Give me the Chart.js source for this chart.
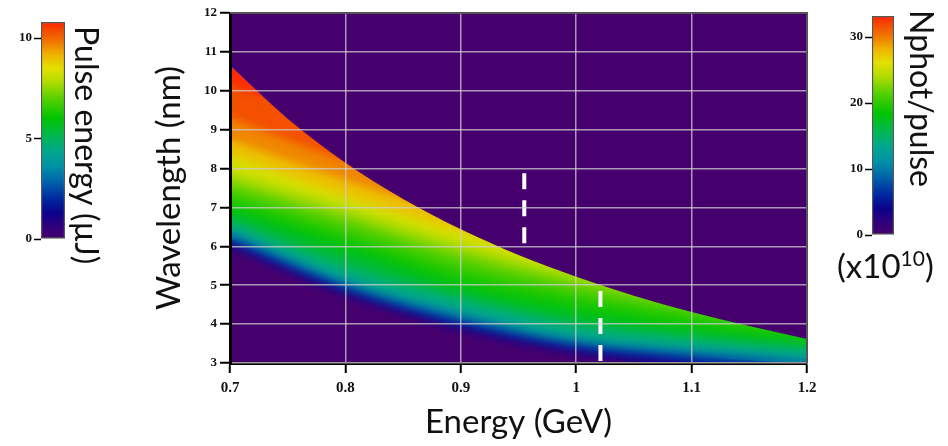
<!DOCTYPE html>
<html>
<head>
<meta charset="utf-8">
<script src="https://cdn.jsdelivr.net/npm/chart.js@4.4.0/dist/chart.umd.min.js"></script>
<style>
  html, body { margin: 0; padding: 0; background: #fff; }
  #page { position: relative; width: 948px; height: 446px; overflow: hidden; }
  .box { position: absolute; top: 0; height: 446px; }
  .vlabel { position: absolute; writing-mode: vertical-rl; font-family: Lato, sans-serif; font-size: 32px; line-height: 32px; color: #111; white-space: nowrap; }
  #exp { position: absolute; left: 837px; top: 245px; font-family: Lato, sans-serif; font-size: 33px; color: #111; white-space: nowrap; }
  #exp sup { font-size: 21px; }
</style>
</head>
<body>
<div id="page">
  <div class="box" style="left:0;width:948px"><canvas id="main"></canvas></div>
  <div class="box" style="left:0;width:140px"><canvas id="barLeft"></canvas></div>
  <div class="box" style="left:790px;width:158px"><canvas id="barRight"></canvas></div>
  <div class="vlabel" style="left:71px;top:26px">Pulse energy (µJ)</div>
  <div class="vlabel" style="left:906px;top:10px">Nphot/pulse</div>
  <div id="exp">(x10<sup>10</sup>)</div>
</div>
<script>
//---------------------- data ----------------------

// electron energy (GeV) where the contours are read
const energies = [0.7, 0.8, 0.9, 1.0, 1.1, 1.2];

// sharp upper edge of the lasing region (nm)
const edgeEnergies = [0.7, 0.75, 0.8, 0.85, 0.9, 0.95, 1.0, 1.05, 1.1, 1.15, 1.2];
const edgeWavelengths = [10.65, 9.28, 8.15, 7.22, 6.44, 5.78, 5.22, 4.73, 4.31, 3.95, 3.62];

// pulse energy levels (µJ) and the wavelength of each level at each energy
const pulseLevels = [0.5, 1.3, 2.5, 4.0, 5.0, 5.5, 6.0, 6.5, 7.0, 7.5, 8.0, 8.6, 9.3, 10.0, 10.6];
const wl_0_5 = [5.95, 4.72, 3.82, 3.22, 2.90, 2.70];
const wl_1_3 = [6.07, 4.83, 3.95, 3.34, 3.04, 2.84];
const wl_2_5 = [6.20, 4.97, 4.10, 3.48, 3.18, 2.98];
const wl_4_0 = [6.40, 5.14, 4.30, 3.64, 3.35, 3.12];
const wl_5_0 = [6.62, 5.45, 4.62, 3.95, 3.60, 3.34];
const wl_5_5 = [6.80, 5.75, 4.82, 4.15, 3.76, 3.48];
const wl_6_0 = [7.00, 6.05, 5.05, 4.40, 3.95, 3.62];
const wl_6_5 = [7.25, 6.32, 5.35, 4.68, 4.18, 3.80];
const wl_7_0 = [7.50, 6.60, 5.65, 4.95, 4.40, 4.00];
const wl_7_5 = [7.72, 6.82, 5.88, 5.15, 4.62, 4.20];
const wl_8_0 = [7.95, 7.05, 6.10, 5.35, 4.85, 4.40];
const wl_8_6 = [8.35, 7.30, 6.40, 5.70, 5.20, 4.70];
const wl_9_3 = [8.75, 7.70, 6.80, 6.10, 5.50, 5.00];
const wl_10_0 = [9.30, 8.20, 7.30, 6.50, 5.90, 5.40];
const wl_10_6 = [10.20, 8.90, 7.90, 7.00, 6.40, 5.80];
const contours = [wl_0_5, wl_1_3, wl_2_5, wl_4_0, wl_5_0, wl_5_5, wl_6_0, wl_6_5,
                  wl_7_0, wl_7_5, wl_8_0, wl_8_6, wl_9_3, wl_10_0, wl_10_6];

// white dashed markers
const marker1Energy = [0.955, 0.955];
const marker1Wavelength = [6.08, 7.91];
const marker2Energy = [1.021, 1.021];
const marker2Wavelength = [3.05, 4.93];

// ticks
const xTicks = [0.7, 0.8, 0.9, 1.0, 1.1, 1.2];
const xTickLabels = ['0.7', '0.8', '0.9', '1', '1.1', '1.2'];
const yTicks = [3, 4, 5, 6, 7, 8, 9, 10, 11, 12];
const pulseTicks = [0, 5, 10];
const pulseMax = 10.8;
const photTicks = [0, 10, 20, 30];
const photMax = 33.2;

//---------------------- style ----------------------

// rainbow colour map, position 0..1 of the colour bar
const cmapStops = [
  [0.000, [70, 0, 110]],
  [0.056, [48, 0, 124]],
  [0.120, [12, 0, 140]],
  [0.185, [0, 40, 160]],
  [0.260, [0, 96, 170]],
  [0.333, [0, 144, 168]],
  [0.407, [0, 168, 140]],
  [0.480, [0, 184, 76]],
  [0.556, [0, 196, 0]],
  [0.648, [88, 208, 0]],
  [0.722, [176, 220, 0]],
  [0.787, [228, 224, 0]],
  [0.852, [240, 176, 0]],
  [0.907, [240, 120, 0]],
  [0.963, [244, 72, 0]],
  [1.000, [255, 34, 0]]
];

function rgb(c) { return 'rgb(' + c.join(',') + ')'; }

function cmap(t) {
  t = Math.max(0, Math.min(1, t));
  for (let i = 1; i < cmapStops.length; i++) {
    if (t <= cmapStops[i][0]) {
      const [t0, c0] = cmapStops[i - 1];
      const [t1, c1] = cmapStops[i];
      const f = (t - t0) / (t1 - t0);
      return rgb(c0.map((c, j) => Math.round(c + (c1[j] - c) * f)));
    }
  }
  return rgb(cmapStops[cmapStops.length - 1][1]);
}

const purple = cmap(0);
const xTickFont = { family: 'Liberation Serif', size: 15, weight: 'bold' };
const yTickFont = { family: 'Liberation Serif', size: 13, weight: 'bold' };
const titleFont = { family: 'Lato', size: 33 };
const gridColor = 'rgba(205,205,205,0.75)';

function toPoints(xs, ys) { return xs.map((x, i) => ({ x: x, y: ys[i] })); }

//---------------------- heat map ----------------------

// painted from the top contour down, each one filling to the bottom
const bandSets = contours.map((wl, k) => {
  const mid = k === 0 ? 0 : (pulseLevels[k - 1] + pulseLevels[k]) / 2;
  return {
    data: toPoints(energies, wl),
    fill: 'start',
    backgroundColor: cmap(mid / pulseMax),
    borderColor: 'transparent',
    borderWidth: 0,
    pointRadius: 0,
    cubicInterpolationMode: 'monotone',
    order: k + 1
  };
});

const datasets = [
  {
    data: toPoints(marker1Energy, marker1Wavelength),
    borderColor: '#fff', borderWidth: 4, borderDash: [16, 11], borderCapStyle: 'butt',
    pointRadius: 0, fill: false, order: -1
  },
  {
    data: toPoints(marker2Energy, marker2Wavelength),
    borderColor: '#fff', borderWidth: 4, borderDash: [16, 11], borderCapStyle: 'butt',
    pointRadius: 0, fill: false, order: -1
  },
  {
    // purple above the edge
    data: toPoints(edgeEnergies, edgeWavelengths),
    fill: 'end', backgroundColor: purple,
    borderColor: 'transparent', borderWidth: 0, pointRadius: 0,
    cubicInterpolationMode: 'monotone', order: 0
  },
  ...bandSets,
  {
    // red under the edge, drawn first
    data: toPoints(edgeEnergies, edgeWavelengths),
    fill: 'start', backgroundColor: cmap((pulseLevels[pulseLevels.length - 1] + pulseMax) / 2 / pulseMax),
    borderColor: 'transparent', borderWidth: 0, pointRadius: 0,
    cubicInterpolationMode: 'monotone', order: 100
  }
];

// once the last band is down, lay a blurred copy over it to smooth the steps
const softBands = {
  id: 'softBands',
  afterDatasetDraw(chart, args) {
    if (chart.data.datasets[args.index].order !== 1) return;
    const { ctx, canvas, chartArea: a } = chart;
    const w = a.right - a.left, h = a.bottom - a.top;
    ctx.save();
    ctx.beginPath();
    ctx.rect(a.left, a.top, w, h);
    ctx.clip();
    ctx.filter = 'blur(4px)';
    ctx.drawImage(canvas, a.left, a.top, w, h, a.left, a.top, w, h);
    ctx.restore();
  }
};

const frame = {
  id: 'frame',
  afterDraw(chart) {
    const { ctx, chartArea: a } = chart;
    ctx.save();
    ctx.strokeStyle = '#555';
    ctx.lineWidth = 2;
    ctx.beginPath();
    ctx.moveTo(a.left, a.top);
    ctx.lineTo(a.right, a.top);
    ctx.lineTo(a.right, a.bottom);
    ctx.stroke();
    ctx.restore();
  }
};

new Chart(document.getElementById('main'), {
  type: 'line',
  data: { datasets: datasets },
  options: {
    responsive: true,
    maintainAspectRatio: false,
    animation: false,
    layout: { padding: { left: 150, right: 141, top: 13, bottom: 4 } },
    plugins: { legend: { display: false }, tooltip: { enabled: false } },
    scales: {
      x: {
        type: 'linear', min: 0.7, max: 1.2,
        afterBuildTicks: s => { s.ticks = xTicks.map(v => ({ value: v })); },
        afterFit: s => { s.height = 79; s.paddingLeft = 0; s.paddingRight = 0; },
        ticks: { callback: (v, i) => xTickLabels[i], font: xTickFont, color: '#111', padding: 6, maxRotation: 0, autoSkip: false },
        grid: { z: 1, color: gridColor, lineWidth: 1.5, tickLength: 10, tickColor: '#000', tickWidth: 2 },
        border: { z: 1, color: '#000', width: 3 },
        title: { display: true, text: 'Energy (GeV)', font: titleFont, color: '#111', padding: { top: 0, bottom: 0 } }
      },
      y: {
        type: 'linear', min: 3, max: 12,
        afterBuildTicks: s => { s.ticks = yTicks.map(v => ({ value: v })); },
        afterFit: s => { s.width = 80; s.paddingTop = 0; s.paddingBottom = 0; },
        ticks: { font: yTickFont, color: '#111', padding: 3, autoSkip: false },
        grid: { z: 1, color: gridColor, lineWidth: 1.5, tickLength: 10, tickColor: '#000', tickWidth: 2 },
        border: { z: 1, color: '#000', width: 3 },
        title: { display: true, text: 'Wavelength (nm)', font: titleFont, color: '#111', padding: { top: 0, bottom: 0 } }
      }
    }
  },
  plugins: [softBands, frame]
});

//---------------------- colour bars ----------------------

function barGradient(ctx) {
  const chart = ctx.chart;
  if (!chart.chartArea) return null;
  const y = chart.scales.y;
  const g = chart.ctx.createLinearGradient(0, y.getPixelForValue(y.min), 0, y.getPixelForValue(y.max));
  cmapStops.forEach(s => g.addColorStop(s[0], rgb(s[1])));
  return g;
}

function colourBar(id, max, ticks, axisWidth, pad) {
  new Chart(document.getElementById(id), {
    type: 'bar',
    data: {
      labels: [''],
      datasets: [{
        data: [[0, max]],
        backgroundColor: barGradient,
        borderColor: '#555', borderWidth: 1.5, borderSkipped: false,
        barPercentage: 1, categoryPercentage: 1
      }]
    },
    options: {
      responsive: true,
      maintainAspectRatio: false,
      animation: false,
      layout: { padding: pad },
      plugins: { legend: { display: false }, tooltip: { enabled: false } },
      scales: {
        x: { display: false },
        y: {
          min: 0, max: max,
          afterBuildTicks: s => { s.ticks = ticks.map(v => ({ value: v })); },
          afterFit: s => { s.width = axisWidth; s.paddingTop = 0; s.paddingBottom = 0; },
          ticks: { font: yTickFont, color: '#111', padding: 2, autoSkip: false },
          grid: { drawOnChartArea: false, tickLength: 7, tickColor: '#000', tickWidth: 1.5 },
          border: { display: false }
        }
      }
    }
  });
}

colourBar('barLeft', pulseMax, pulseTicks, 41, { left: 0, right: 75, top: 22, bottom: 207 });
colourBar('barRight', photMax, photTicks, 82, { left: 0, right: 54, top: 16, bottom: 211 });
</script>
</body>
</html>
